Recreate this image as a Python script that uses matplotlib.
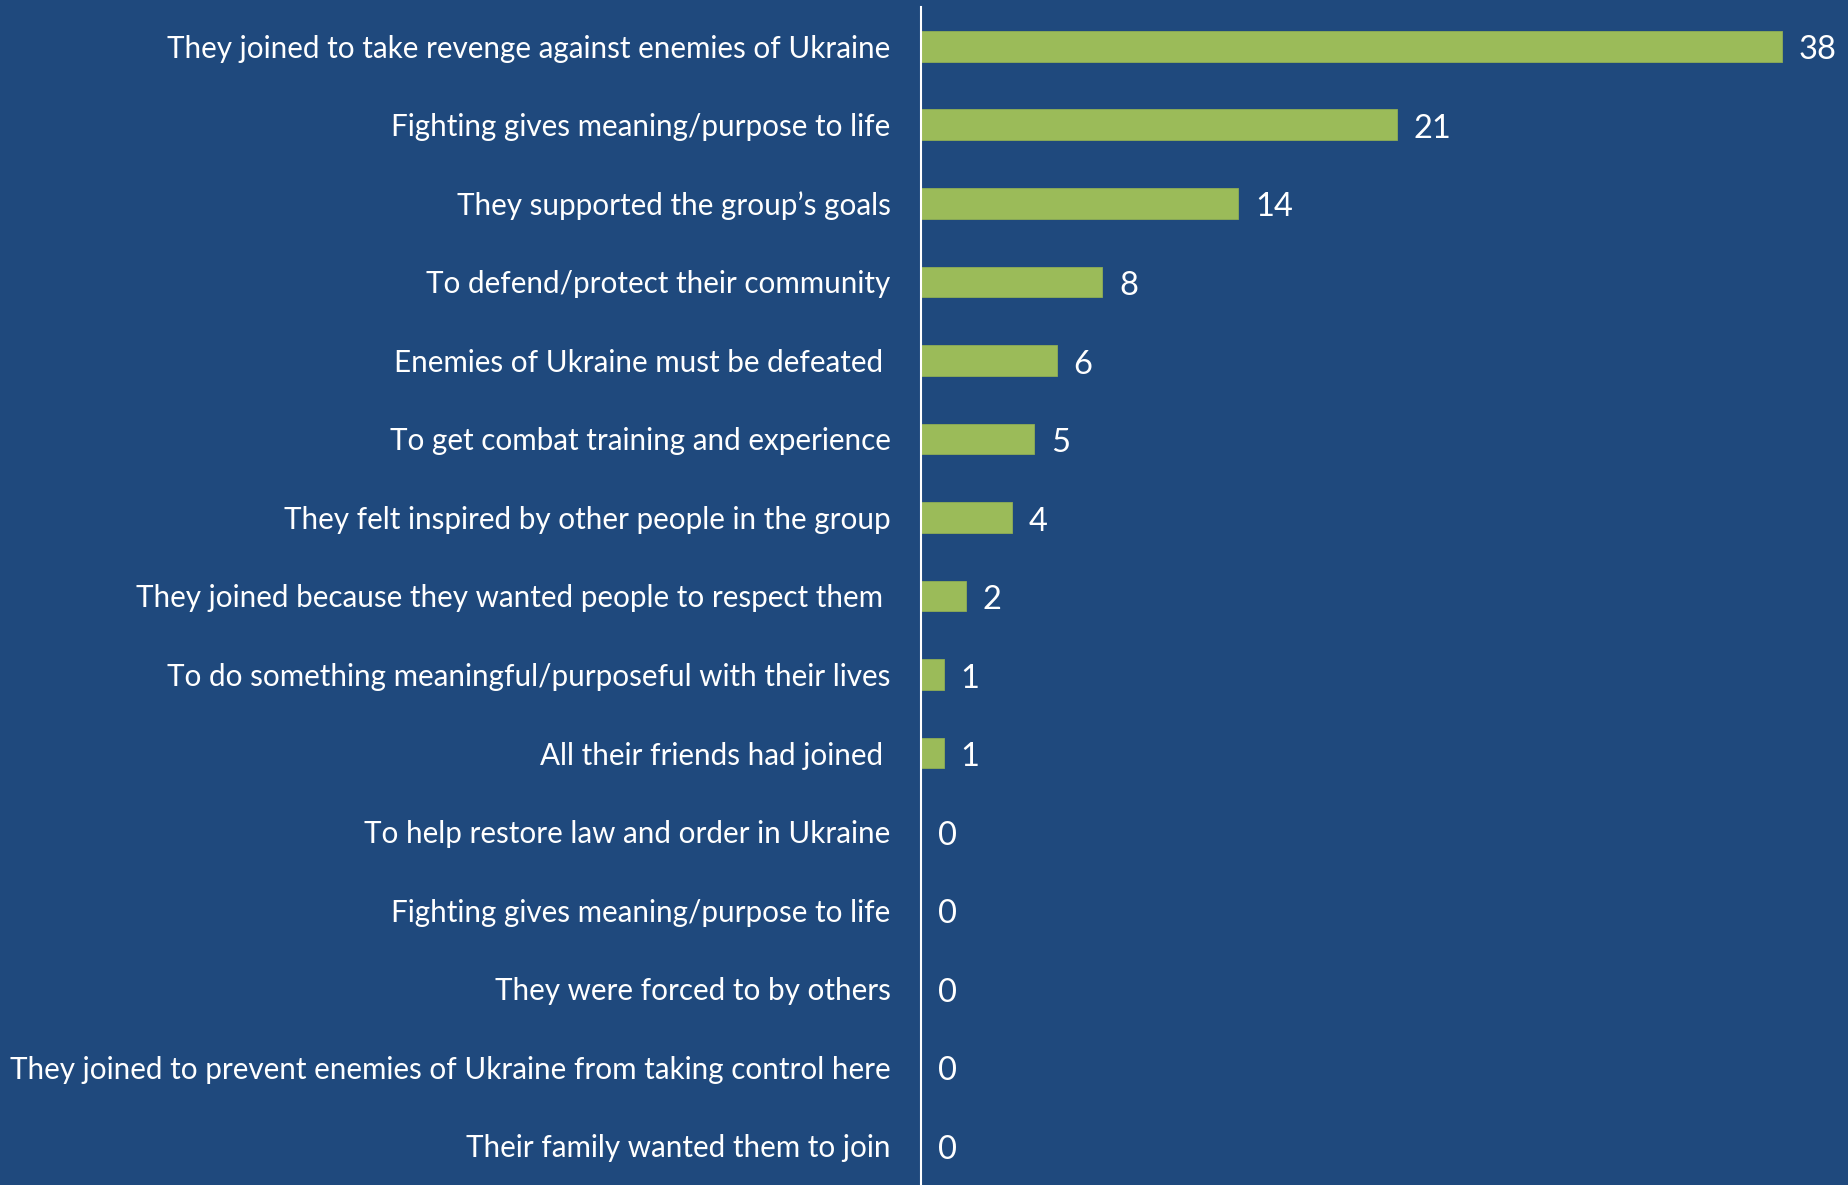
import matplotlib.pyplot as plt

plt.rcParams['font.family'] = ['Lato', 'DejaVu Sans']

reasons = [
    'They joined to take revenge against enemies of Ukraine',
    'Fighting gives meaning/purpose to life',
    'They supported the group\u2019s goals',
    'To defend/protect their community',
    'Enemies of Ukraine must be defeated ',
    'To get combat training and experience',
    'They felt inspired by other people in the group',
    'They joined because they wanted people to respect them ',
    'To do something meaningful/purposeful with their lives',
    'All their friends had joined ',
    'To help restore law and order in Ukraine',
    'Fighting gives meaning/purpose to life',
    'They were forced to by others',
    'They joined to prevent enemies of Ukraine from taking control here',
    'Their family wanted them to join',
]
counts = [38, 21, 14, 8, 6, 5, 4, 2, 1, 1, 0, 0, 0, 0, 0]

bg = '#1f497d'
green = '#9bbb59'

fig = plt.figure(figsize=(18.49, 11.85), dpi=100, facecolor=bg)
ax = fig.add_axes([921 / 1849, 0, 1 - 921 / 1849, 1 - 7 / 1185])
ax.set_facecolor(bg)

pos = list(range(len(reasons)))
ax.barh(pos, counts, height=0.39, color=green, edgecolor='#8fae55', linewidth=0.6)
ax.set_ylim(len(reasons) - 0.5, -0.5)
ax.set_xlim(0, 40.95)

ax.set_yticks(pos)
ax.set_yticklabels(reasons, fontsize=21.3, color='white')
ax.tick_params(axis='y', length=0, pad=22)
ax.set_xticks([])

for s in ['top', 'right', 'bottom']:
    ax.spines[s].set_visible(False)
ax.spines['left'].set_color('white')
ax.spines['left'].set_linewidth(1.5)

for p, c in zip(pos, counts):
    ax.annotate(str(c), (c, p), xytext=(12, -3), textcoords='offset points',
                va='center', ha='left', fontsize=23.5, color='white')

plt.savefig('out.png', dpi=100, facecolor=bg)
